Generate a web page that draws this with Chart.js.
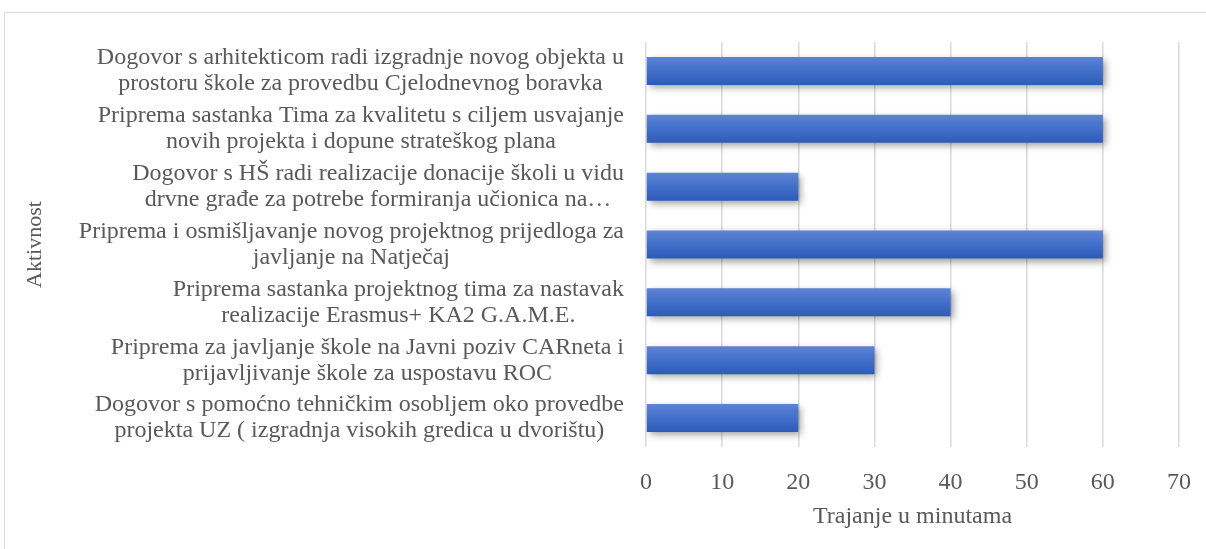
<!DOCTYPE html>
<html>
<head>
<meta charset="utf-8">
<script src="https://cdn.jsdelivr.net/npm/chart.js@4.4.1/dist/chart.umd.min.js"></script>
<style>
  html, body { margin: 0; padding: 0; background: #ffffff; overflow: hidden; }
  #wrap { position: relative; width: 1206px; height: 549px; }
  #frame { position: absolute; left: 4px; top: 12px; width: 1300px; height: 700px; border: 1px solid #d9d9d9; box-sizing: border-box; }
  #c { position: absolute; left: 0; top: 0; }
</style>
</head>
<body>
<div id="wrap">
  <div id="frame"></div>
  <canvas id="c" width="1206" height="549"></canvas>
</div>
<script>
const categories = [
  ["Dogovor s arhitekticom radi izgradnje novog objekta u", "prostoru škole za provedbu Cjelodnevnog boravka"],
  ["Priprema sastanka Tima za kvalitetu s ciljem usvajanje", "novih projekta i dopune strateškog plana"],
  ["Dogovor s HŠ radi realizacije donacije školi u vidu", "drvne građe za potrebe formiranja učionica na…"],
  ["Priprema i osmišljavanje novog projektnog prijedloga za", "javljanje na Natječaj"],
  ["Priprema sastanka projektnog tima za nastavak", "realizacije Erasmus+ KA2 G.A.M.E."],
  ["Priprema za javljanje škole na Javni poziv CARneta i", "prijavljivanje škole za uspostavu ROC"],
  ["Dogovor s pomoćno tehničkim osobljem oko provedbe", "projekta UZ ( izgradnja visokih gredica u dvorištu)"]
];
const durations = [60, 60, 20, 60, 40, 30, 20];
const xTicks = [0, 10, 20, 30, 40, 50, 60, 70];
const xTitle = "Trajanje u minutama";
const yTitle = "Aktivnost";

const FONT = '"Liberation Serif", "Times New Roman", serif';
const TEXT = '#595959';
const BAR_FRACTION = 0.484;

const yLabelPlugin = {
  id: 'yLabels',
  afterDraw(chart) {
    const s = chart.scales.y;
    const ctx = chart.ctx;
    ctx.save();
    ctx.font = '24px ' + FONT;
    ctx.fillStyle = TEXT;
    ctx.textAlign = 'center';
    ctx.textBaseline = 'middle';
    const right = s.right - 22;
    categories.forEach((lines, i) => {
      const py = s.getPixelForTick(i);
      const w = Math.max(...lines.map(l => ctx.measureText(l).width));
      const cx = right - w / 2;
      lines.forEach((l, j) => ctx.fillText(l, cx, py + (j - (lines.length - 1) / 2) * 26));
    });
    ctx.restore();
  }
};

const shadowPlugin = {
  id: 'barShadow',
  beforeDatasetsDraw(chart) {
    const ctx = chart.ctx;
    ctx.save();
    ctx.shadowColor = 'rgba(0,0,0,0.38)';
    ctx.shadowBlur = 7;
    ctx.shadowOffsetX = 3;
    ctx.shadowOffsetY = 3;
  },
  afterDatasetsDraw(chart) {
    chart.ctx.restore();
  }
};

function barGradient(c) {
  const chart = c.chart;
  const ys = chart.scales && chart.scales.y;
  if (!chart.chartArea || !ys || c.dataIndex === undefined) return '#4472c4';
  const py = ys.getPixelForValue(c.dataIndex);
  const h = (ys.height / categories.length) * BAR_FRACTION / 2;
  const g = chart.ctx.createLinearGradient(0, py - h, 0, py + h);
  g.addColorStop(0, '#5e84d4');
  g.addColorStop(0.5, '#416fca');
  g.addColorStop(1, '#2d5cb8');
  return g;
}

new Chart(document.getElementById('c'), {
  type: 'bar',
  data: {
    labels: categories,
    datasets: [{
      data: durations,
      backgroundColor: barGradient,
      borderWidth: 0,
      barPercentage: BAR_FRACTION,
      categoryPercentage: 1
    }]
  },
  plugins: [shadowPlugin, yLabelPlugin],
  options: {
    indexAxis: 'y',
    responsive: false,
    devicePixelRatio: 1,
    animation: false,
    layout: { padding: { left: 20, top: 42, right: 27, bottom: 18 } },
    plugins: { legend: { display: false }, tooltip: { enabled: false } },
    scales: {
      x: {
        min: 0, max: 70,
        afterBuildTicks: (s) => { s.ticks = xTicks.map(v => ({ value: v })); },
        afterFit: (s) => { s.height = 84; s.paddingLeft = 0; s.paddingRight = 0; },
        ticks: { color: TEXT, font: { family: FONT, size: 24 }, padding: 21 },
        grid: { color: '#d9d9d9', lineWidth: 1.5, drawTicks: false },
        border: { display: false },
        title: { display: true, text: xTitle, color: TEXT, font: { family: FONT, size: 24 }, padding: { top: 6, bottom: 0 } }
      },
      y: {
        afterFit: (s) => { s.width = 626; },
        ticks: { display: false },
        grid: { display: false, drawTicks: false },
        border: { display: false },
        title: { display: true, text: yTitle, color: TEXT, font: { family: FONT, size: 22 }, padding: { top: 2, bottom: 0 } }
      }
    }
  }
});
</script>
</body>
</html>
